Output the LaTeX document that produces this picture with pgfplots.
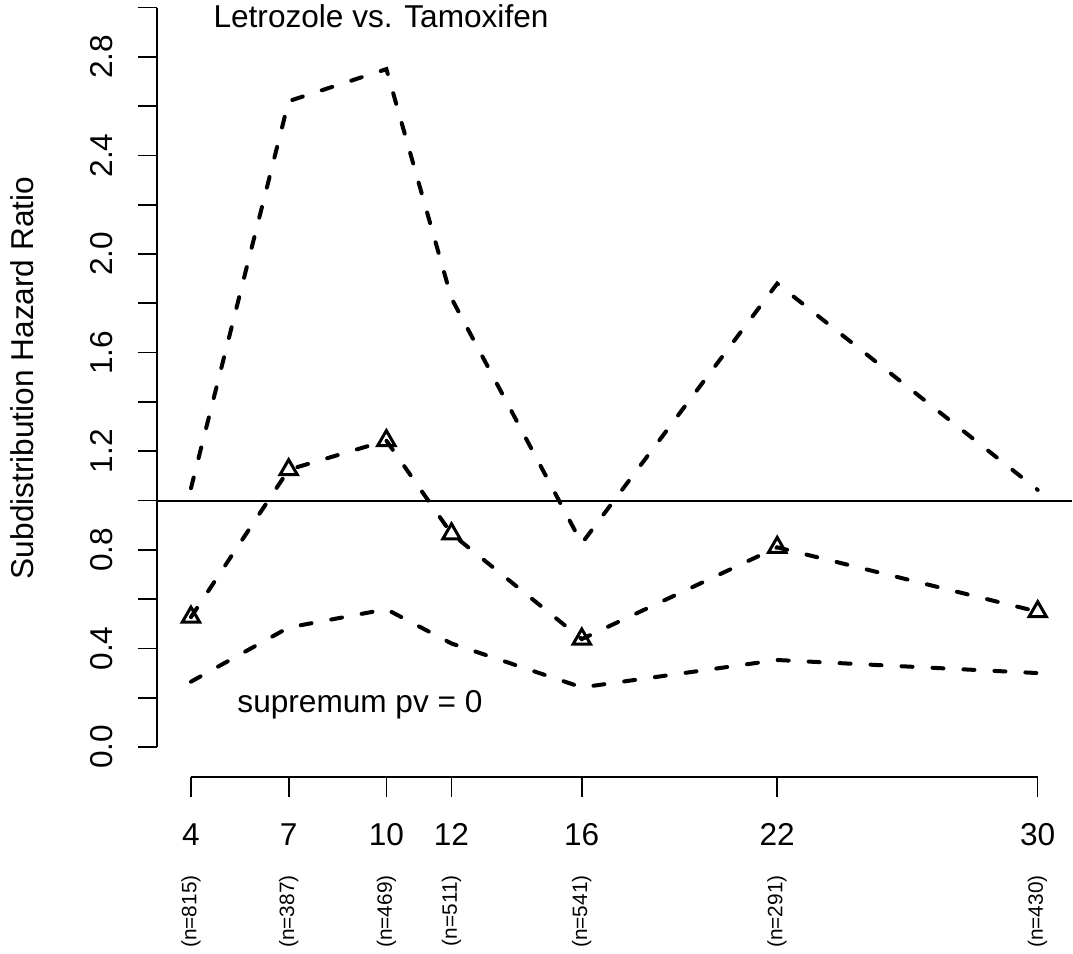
\documentclass[border=0pt]{standalone}
\usepackage{fontspec}
\setmainfont{Liberation Sans}
\usepackage{pgfplots}
\pgfplotsset{compat=1.18}

% 1 px of the reference = 0.5pt
\newcommand{\mainfont}{\fontsize{15.8}{19}\selectfont}
\newcommand{\nfont}{\fontsize{10.4}{12}\selectfont}

\pgfplotsset{
  rline/.style={black, line width=2pt, line cap=round, dash pattern=on 5.5pt off 10pt},
  raxis/.style={
    scale only axis,
    axis line style={black, line width=0.85pt, -},
    tick style={black, line width=0.85pt},
    tick align=outside,
    major tick length=9.75pt,
    tick label style={font=\mainfont, inner sep=0pt},
  },
}

\begin{document}
\begin{tikzpicture}
\useasboundingbox (0,0) rectangle (536.5pt,-477pt);

% data region
\begin{axis}[
  at={(78.55pt,-388.3pt)}, anchor=south west,
  scale only axis, width=457.25pt, height=388.3pt,
  xmin=2.96, xmax=31.04, ymin=-0.12, ymax=3.0304,
  hide axis, clip=false,
]
\addplot[black, line width=1pt] coordinates {(2.96,1) (31.04,1)};
% upper bound
\addplot[rline] coordinates {
  (4,1.05) (7,2.62) (10,2.75) (12,1.82) (16,0.826) (22,1.88) (30,1.043)};
% estimate
\addplot[rline, mark=triangle, mark size=5pt,
  mark options={solid, line width=1.5pt, fill=none}] coordinates {
  (4,0.527) (7,1.125) (10,1.243) (12,0.865) (16,0.438) (22,0.81) (30,0.549)};
% lower bound
\addplot[rline] coordinates {
  (4,0.265) (7,0.485) (10,0.559) (12,0.42) (16,0.242) (22,0.353) (30,0.30)};
\node[anchor=base, font=\mainfont] at (axis cs:9.835,2.917) {Letrozole vs. Tamoxifen};
\node[anchor=base, font=\mainfont] at (axis cs:9.19,0.142) {supremum pv = 0};
\end{axis}

% y axis
\begin{axis}[
  raxis,
  at={(78.55pt,-373.5pt)}, anchor=south west,
  width=20pt, height=369.75pt,
  xmin=0, xmax=1, ymin=0, ymax=3,
  axis y line*=left, axis x line=none,
  ytick={0,0.2,0.4,0.6,0.8,1.0,1.2,1.4,1.6,1.8,2.0,2.2,2.4,2.6,2.8,3.0},
  yticklabels={0.0,,0.4,,0.8,,1.2,,1.6,,2.0,,2.4,,2.8,},
  yticklabel style={xshift=-12.75pt, rotate=90, anchor=base},
]
\addplot[draw=none] coordinates {(0,0) (1,3)};
\end{axis}

% x axis
\begin{axis}[
  raxis,
  at={(95.5pt,-388.5pt)}, anchor=south west,
  width=423.3pt, height=20pt,
  xmin=4, xmax=30, ymin=0, ymax=1,
  axis x line*=bottom, axis y line=none,
  xtick={4,7,10,12,16,22,30},
  xticklabels={4,7,10,12,16,22,30},
  xticklabel style={anchor=north, yshift=-13.25pt},
  clip=false,
]
\addplot[draw=none] coordinates {(4,0) (30,1)};
% group sizes under the time labels
\begin{scope}[every node/.style={rotate=90, anchor=east, font=\nfont, inner sep=0pt}]
\node at ([yshift=-49pt]axis cs:4,0)  {(n=815)};
\node at ([yshift=-49pt]axis cs:7,0)  {(n=387)};
\node at ([yshift=-49pt]axis cs:10,0) {(n=469)};
\node at ([yshift=-49pt]axis cs:12,0) {(n=511)};
\node at ([yshift=-49pt]axis cs:16,0) {(n=541)};
\node at ([yshift=-49pt]axis cs:22,0) {(n=291)};
\node at ([yshift=-49pt]axis cs:30,0) {(n=430)};
\end{scope}
\end{axis}

\node[rotate=90, anchor=base, font=\mainfont] at (16.5pt,-189pt) {Subdistribution Hazard Ratio};
\end{tikzpicture}
\end{document}
